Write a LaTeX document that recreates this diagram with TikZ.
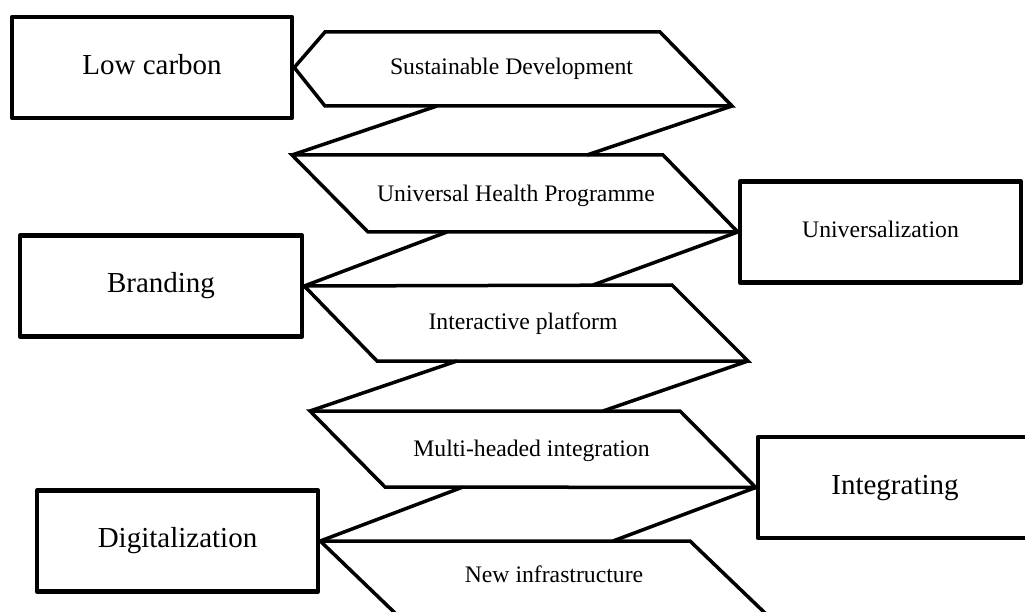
\documentclass[tikz,border=0pt]{standalone}
\usepackage{fontspec}
\setmainfont{Liberation Serif}
\begin{document}
\begin{tikzpicture}[x=1pt,y=-1pt,
  bigfont/.style={font=\fontsize{29}{34}\selectfont, text height=20.3pt, text depth=7.25pt},
  smallfont/.style={font=\fontsize{23.7}{28}\selectfont, text height=16.6pt, text depth=5.9pt},
  sbox/.style={draw=black, line width=4.5pt, rectangle, inner sep=0pt, minimum height=101pt, line join=round},
  shp/.style={draw=black, line width=3.5pt, line join=miter},
  lbl/.style={font=\fontsize{23.7}{28}\selectfont, anchor=base, inner sep=0pt}]
\useasboundingbox (0,0) rectangle (1025,612);
\begin{scope}
\clip (0,0) rectangle (1025,612);
% boxes
\node[sbox, bigfont, minimum width=280pt] (low) at (152,67.5) {Low carbon};
\node[sbox, smallfont, minimum width=281pt] (univ) at (880.5,232) {Universalization};
\node[sbox, bigfont, minimum width=282pt] (brand) at (161,286) {Branding};
\node[sbox, bigfont, minimum width=274pt] (integ) at (895,487.5) {Integrating};
\node[sbox, bigfont, minimum width=281pt] (digi) at (177.5,541) {Digitalization};
% vertices
\coordinate (sdL) at (low.east);
\coordinate (uhpR) at (univ.west);
\coordinate (ipL) at (brand.east);
\coordinate (mhiR) at (integ.west);
\coordinate (niL) at (digi.east);
% Sustainable Development
\draw[shp] (sdL) -- (325,32) -- (660,32) -- (732,106) -- (325,106) -- cycle;
\node[lbl] (sd) at (511.5,75) {Sustainable Development};
% band 1
\draw[shp] (437,106) -- (292,155) (732,106) -- (587,155);
% Universal Health Programme
\draw[shp] (292,155) -- (663,155) -- (uhpR) -- (368,232) -- cycle;
\node[lbl] (uhp) at (516,202) {Universal Health Programme};
% band 2
\draw[shp] (447,232) -- (ipL) (uhpR) -- (593,285);
% Interactive platform
\draw[shp] (ipL) -- (672,285) -- (748,361) -- (377,361) -- cycle;
\node[lbl] (ip) at (523,329) {Interactive platform};
% band 3
\draw[shp] (457,361) -- (310,411) (748,361) -- (603,411);
% Multi-headed integration
\draw[shp] (310,411) -- (680,411) -- (mhiR) -- (385,487) -- cycle;
\node[lbl] (mhi) at (531.5,456) {Multi-headed integration};
% band 4
\draw[shp] (463,487) -- (niL) (mhiR) -- (613,541);
% New infrastructure
\draw[shp] (niL) -- (690,541) -- (766,614) -- (396,614) -- cycle;
\node[lbl] (ni) at (554,582) {New infrastructure};
\end{scope}
\end{tikzpicture}
\end{document}
